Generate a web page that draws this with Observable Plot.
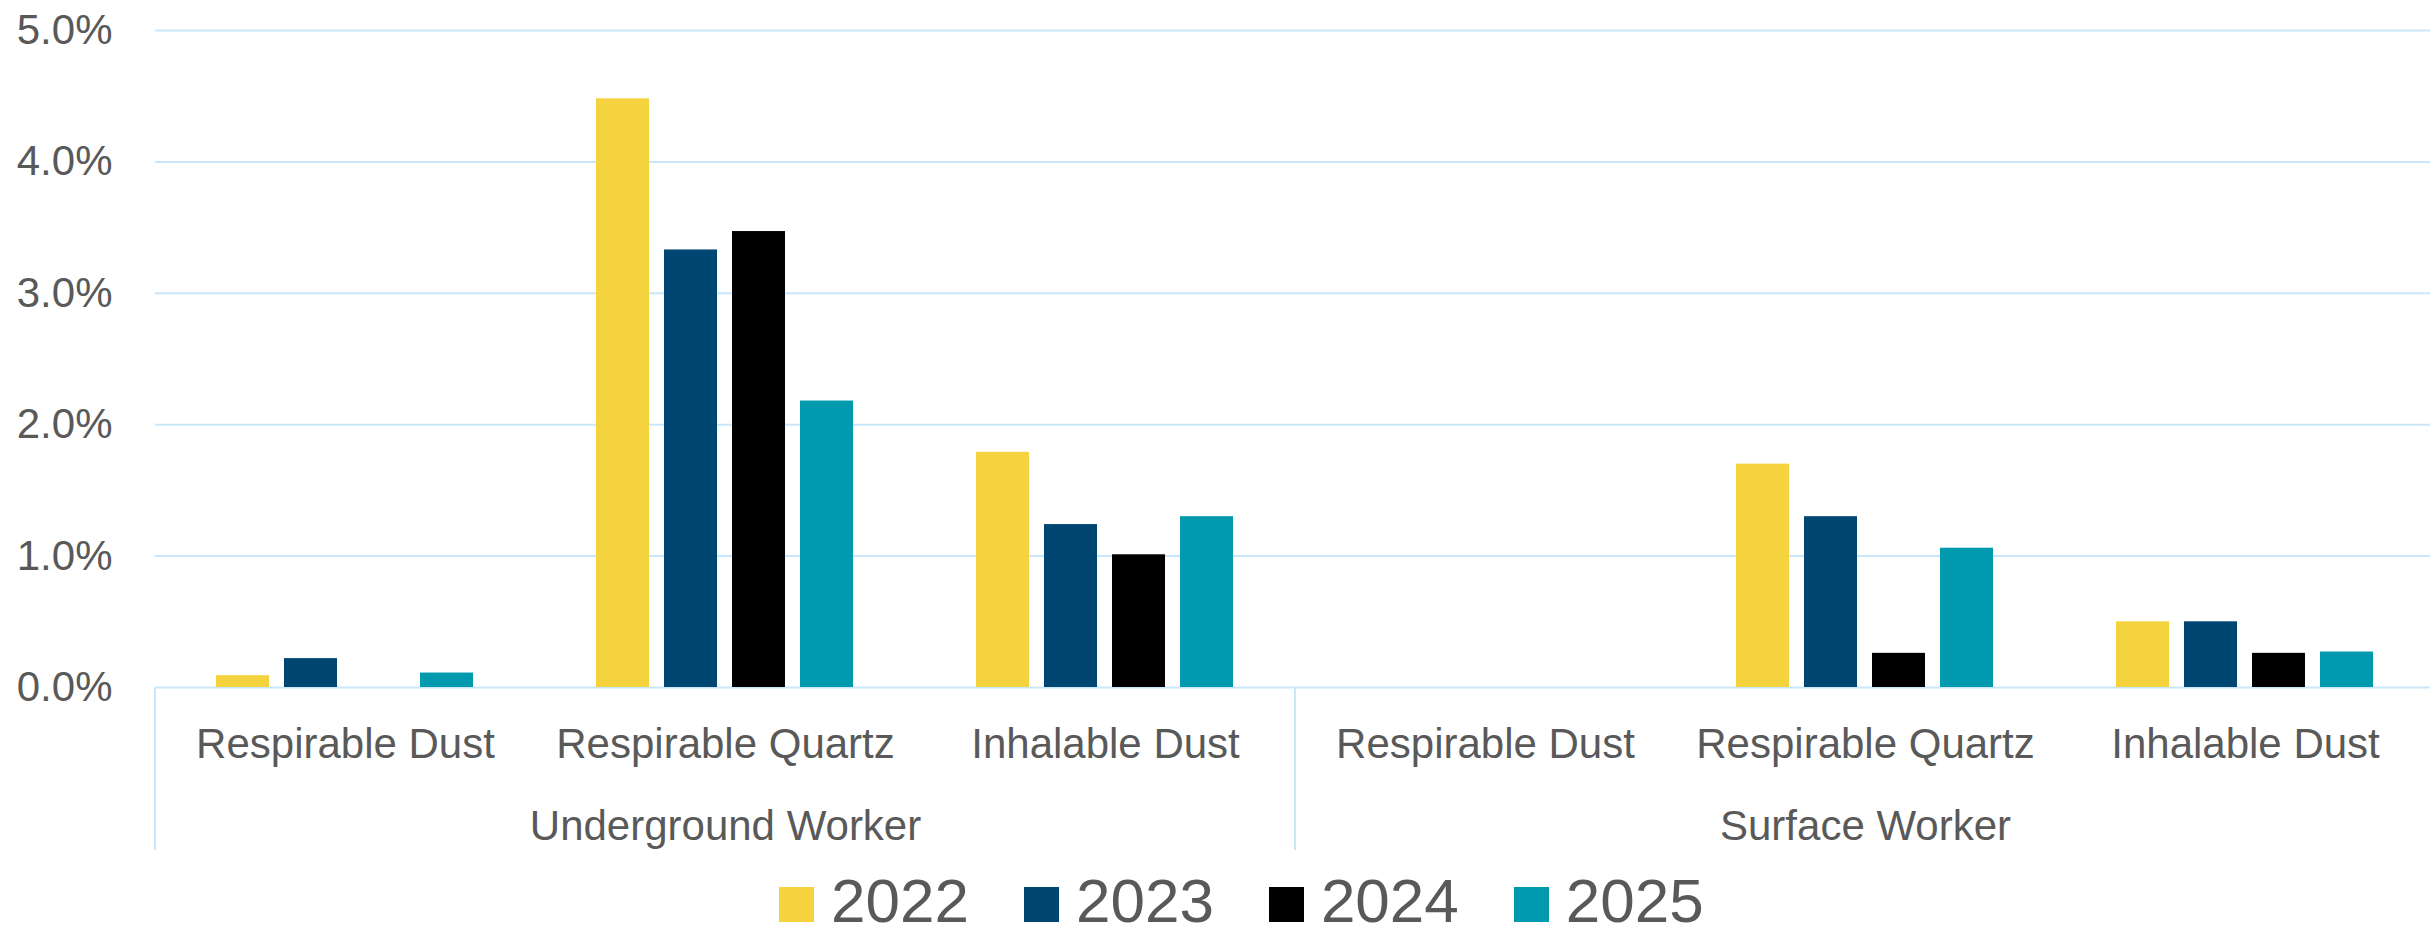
<!DOCTYPE html>
<html>
<head>
<meta charset="utf-8">
<script src="https://cdn.jsdelivr.net/npm/d3@7"></script>
<script src="https://cdn.jsdelivr.net/npm/@observablehq/plot@0.6"></script>
<style>
  html, body { margin: 0; padding: 0; background: #fff; }
  body { width: 2430px; height: 936px; overflow: hidden; font-family: "Liberation Sans", Arial, sans-serif; }
  #legend { display: flex; align-items: center; height: 54px; padding-top: 4px; padding-left: 779px; color: #595959; font-size: 62px; line-height: 50px; }
  .item { display: flex; align-items: center; margin-right: 55px; }
  .item span { line-height: 50px; }
  .sw { width: 35px; height: 35px; margin-right: 17px; position: relative; top: 3px; }
</style>
</head>
<body>
<div id="chart"></div>
<div id="legend"></div>
<script>
const groups = ["Underground Worker", "Surface Worker"];
const categories = ["Respirable Dust", "Respirable Quartz", "Inhalable Dust"];
const years = ["2022", "2023", "2024", "2025"];
const colors = ["#F4D33F", "#004672", "#000000", "#0099AD"];
const yTicks = [0, 1, 2, 3, 4, 5];

// values in percent, per group and category, one per year
const undergroundRespirableDust   = [0.09, 0.22, null, 0.11];
const undergroundRespirableQuartz = [4.48, 3.33, 3.47, 2.18];
const undergroundInhalableDust    = [1.79, 1.24, 1.01, 1.30];
const surfaceRespirableDust       = [null, null, null, null];
const surfaceRespirableQuartz     = [1.70, 1.30, 0.26, 1.06];
const surfaceInhalableDust        = [0.50, 0.50, 0.26, 0.27];

const series = [
  [undergroundRespirableDust, undergroundRespirableQuartz, undergroundInhalableDust],
  [surfaceRespirableDust, surfaceRespirableQuartz, surfaceInhalableDust]
];

const keyOf = (g, c) => g + "|" + c;
const keys = [];
const rows = [];
groups.forEach((g, gi) => categories.forEach((c, ci) => {
  keys.push(keyOf(g, c));
  years.forEach((y, yi) => rows.push({key: keyOf(g, c), group: g, category: c, year: y, value: series[gi][ci][yi]}));
}));
const groupLabels = groups.map(g => ({key: keyOf(g, categories[1]), label: g}));

const textColor = "#595959";
const gridColor = "#C9E7FA";
const H = 870;

const plot = Plot.plot({
  width: 2430,
  height: H,
  marginLeft: 153,
  marginRight: -7,
  marginTop: 30,
  marginBottom: H - 687,
  style: {fontFamily: '"Liberation Sans", Arial, sans-serif', fontSize: "42px", color: textColor, background: "#fff", overflow: "visible"},
  fx: {domain: keys, padding: 0, label: null, axis: null},
  x: {domain: years, paddingInner: 0.2174, paddingOuter: 0.867, axis: null},
  y: {domain: [0, 5], axis: null},
  color: {domain: years, range: colors},
  marks: [
    Plot.ruleY(yTicks, {y: d => d, stroke: gridColor, strokeWidth: 2}),
    Plot.barY(rows, {fx: "key", x: "year", y: "value", fill: "year"}),
    Plot.axisY({ticks: yTicks, facetAnchor: "left", tickSize: 0, tickPadding: 43, tickFormat: d => d.toFixed(1) + "%", fontSize: 42, fill: textColor, label: null}),
    Plot.axisFx({anchor: "bottom", tickSize: 0, tickPadding: 41, tickFormat: d => d.split("|")[1], fontSize: 42, fill: textColor, label: null}),
    Plot.text(groupLabels, {fx: "key", text: "label", frameAnchor: "bottom", lineAnchor: "top", dy: 123, fontSize: 42, fill: textColor})
  ]
});

document.getElementById("chart").appendChild(plot);

// group divider lines below the axis, placed through the plot's scales
const fx = plot.scale("fx");
const y = plot.scale("y");
const svg = d3.select(plot);
const y0 = y.apply(0);
groups.forEach(g => {
  const xl = fx.apply(keyOf(g, categories[0]));
  svg.append("line")
    .attr("x1", xl).attr("x2", xl)
    .attr("y1", y0).attr("y2", y0 + 163)
    .attr("stroke", gridColor).attr("stroke-width", 2);
});

const legend = document.getElementById("legend");
years.forEach((yr, i) => {
  const it = document.createElement("div");
  it.className = "item";
  const sw = document.createElement("div");
  sw.className = "sw";
  sw.style.background = colors[i];
  const t = document.createElement("span");
  t.textContent = yr;
  it.appendChild(sw); it.appendChild(t);
  legend.appendChild(it);
});
</script>
</body>
</html>
